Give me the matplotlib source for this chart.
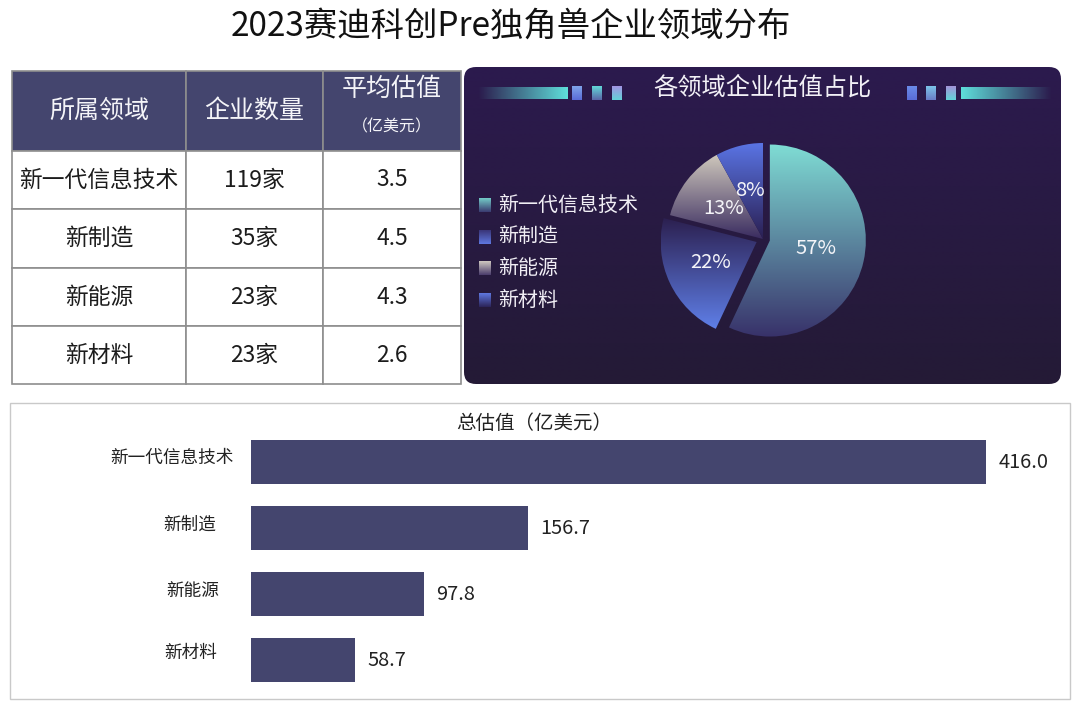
import numpy as np
import matplotlib
matplotlib.use('Agg')
import matplotlib.pyplot as plt
from matplotlib.colors import to_rgba
from matplotlib.patches import FancyBboxPatch, Rectangle

plt.rcParams['font.family'] = ['Noto Sans CJK SC', 'DejaVu Sans']

W, H = 1080, 709

# data
fields = ['新一代信息技术', '新制造', '新能源', '新材料']
companies = ['119家', '35家', '23家', '23家']
avg_value = ['3.5', '4.5', '4.3', '2.6']
total_value = [416.0, 156.7, 97.8, 58.7]
pie_share = [57, 22, 13, 8]
table_head = ['所属领域', '企业数量', '平均估值']

DARK = '#44456e'
PANEL_TOP, PANEL_BOTTOM = '#2c1a4e', '#241a36'
pie_colors = [('#7fdcd4', '#38326a'), ('#2c2050', '#5f7fe8'),
              ('#cfc8bc', '#3a2c60'), ('#5a74e4', '#2a1f52')]
legend_colors = [('#74ccc8', '#3a3a70'), ('#3a3578', '#5f78e0'),
                 ('#cfc8c0', '#4a3c6c'), ('#5f78e0', '#2c2458')]


def gradient(ax, extent, top, bottom, clip=None, horizontal=False, zorder=1):
    # two colour ramp, works with alpha too
    c1, c2 = np.array(to_rgba(top)), np.array(to_rgba(bottom))
    t = np.linspace(0, 1, 128)[:, None]
    ramp = c1 + (c2 - c1) * t
    img = ramp[None, :, :] if horizontal else ramp[:, None, :]
    im = ax.imshow(img, extent=extent, aspect='auto', origin='upper',
                   interpolation='bilinear', zorder=zorder)
    if clip is not None:
        im.set_clip_path(clip)
    return im


def px_axes(x0, y0, x1, y1, **kw):
    # axes placed with picture pixels, y going down
    return fig.add_axes([x0 / W, 1 - y1 / H, (x1 - x0) / W, (y1 - y0) / H], **kw)


fig = plt.figure(figsize=(W / 100, H / 100), dpi=100, facecolor='white')

# full page layer in pixel coordinates
page = fig.add_axes([0, 0, 1, 1], zorder=0)
page.axis('off')

page.text(511, 26, '2023赛迪科创Pre独角兽企业领域分布', fontsize=24,
          color='#111111', ha='center', va='center')

# dark panel
panel = FancyBboxPatch((476, 79), 573, 293, boxstyle='round,pad=12,rounding_size=12',
                       facecolor='none', edgecolor='none', transform=page.transData)
page.add_patch(panel)
gradient(page, (464, 1061, 384, 67), PANEL_TOP, PANEL_BOTTOM, clip=panel)

page.text(762, 88, '各领域企业估值占比', fontsize=17.5, color='#f2f0f6',
          ha='center', va='center', zorder=5)

# little decoration either side of the panel title
gradient(page, (478, 568, 99, 87), '#5fe0dc00', '#5fe0dc', horizontal=True, zorder=2)
gradient(page, (961, 1052, 99, 87), '#5fe0dc', '#5fe0dc00', horizontal=True, zorder=2)
deco = [(572, '#7fa4ea', '#5a6cd8'), (592, '#62d8d8', '#5a66a8'), (612, '#a394e4', '#62d4d8'),
        (907, '#6a8ce8', '#5a6cd8'), (926, '#7cc4e8', '#6a7cc8'), (946, '#a394d8', '#62d4d8')]
for x, c1, c2 in deco:
    gradient(page, (x, x + 10, 100, 86), c1, c2, zorder=2)

# legend of the pie
for name, (c1, c2), y in zip(fields, legend_colors, [205, 237, 268, 300]):
    gradient(page, (479, 491, y + 7, y - 7), c1, c2, zorder=2)
    page.text(498, y, name, fontsize=14.4, color='#f0eef4', va='center', zorder=5)

# bar panel frame
page.add_patch(Rectangle((10, 403), 1060, 296, facecolor='none', edgecolor='#c9c9c9', lw=1))
page.text(534, 423, '总估值（亿美元）', fontsize=14, color='#222222', ha='center', va='center')

page.set_xlim(0, W)
page.set_ylim(H, 0)

# table
tb_ax = px_axes(12, 71, 461, 384, zorder=1)
tb_ax.axis('off')
rows = [table_head] + [list(r) for r in zip(fields, companies, avg_value)]
table = tb_ax.table(cellText=rows, colWidths=[174, 137, 138], cellLoc='center', bbox=[0, 0, 1, 1])
table.auto_set_font_size(False)
row_heights = [80, 58, 59, 58, 58]
for (r, c), cell in table.get_celld().items():
    cell.set_height(row_heights[r])
    cell.set_edgecolor('#8e8e8e')
    cell.set_linewidth(1.2)
    cell.PAD = 0.01
    txt = cell.get_text()
    if r == 0:
        cell.set_facecolor(DARK)
        txt.set_color('#f4f4f8')
        txt.set_fontsize(18)
    else:
        txt.set_color('#1c1c1c')
        txt.set_fontsize(16.4)
table[(0, 2)].get_text().set_text('')
page.text(392, 89, table_head[2], fontsize=18, color='#f4f4f8', ha='center', va='center', zorder=6)
page.text(392, 127, '（亿美元）', fontsize=11.5, color='#f4f4f8', ha='center', va='center', zorder=6)
page.set_zorder(2)
page.patch.set_alpha(0)

# pie, one data unit = 96 px, centre at (763, 239)
R = 96
pie_ax = px_axes(763 - 1.5 * R, 239 - 1.5 * R, 763 + 1.5 * R, 239 + 1.5 * R, zorder=3)
wedges, _ = pie_ax.pie(pie_share, startangle=90, counterclock=False,
                       explode=[0.073, 0.073, 0, 0], radius=1)
for wedge, (c1, c2) in zip(wedges, pie_colors):
    wedge.set_facecolor('none')
    wedge.set_edgecolor('none')
    bb = wedge.get_path().get_extents(wedge.get_patch_transform())
    gradient(pie_ax, (bb.x0, bb.x1, bb.y0, bb.y1), c1, c2, clip=wedge, zorder=2)
pie_ax.set_xlim(-1.5, 1.5)
pie_ax.set_ylim(-1.5, 1.5)
pie_ax.set_aspect('auto')
pie_ax.axis('off')

for share, (x, y) in zip(pie_share, [(816, 249), (711, 262), (724, 209), (750, 191)]):
    pie_ax.text((x - 763) / R, (239 - y) / R, f'{share}%', fontsize=14.5,
                color='#f4f4f8', ha='center', va='center', zorder=6)

# bars, 251 px is zero and 416 reaches 986 px
bar_ax = px_axes(251, 429, 1069, 693, zorder=3)
bar_ax.patch.set_alpha(0)
pos = np.arange(len(fields))
bars = bar_ax.barh(pos, total_value, height=0.667, color=DARK)
bar_ax.bar_label(bars, labels=[f'{v:.1f}' for v in total_value], padding=9,
                 fontsize=14.4, color='#222222')
bar_ax.set_xlim(0, 818 * 416 / 735)
bar_ax.set_ylim(3.5, -0.5)
bar_ax.axis('off')

for name, x, y in zip(fields, [172, 190, 193, 191], [458, 525, 591, 653]):
    page.text(x, y, name, fontsize=12.7, color='#222222', ha='center', va='center')

fig.savefig('out.png', dpi=100)
